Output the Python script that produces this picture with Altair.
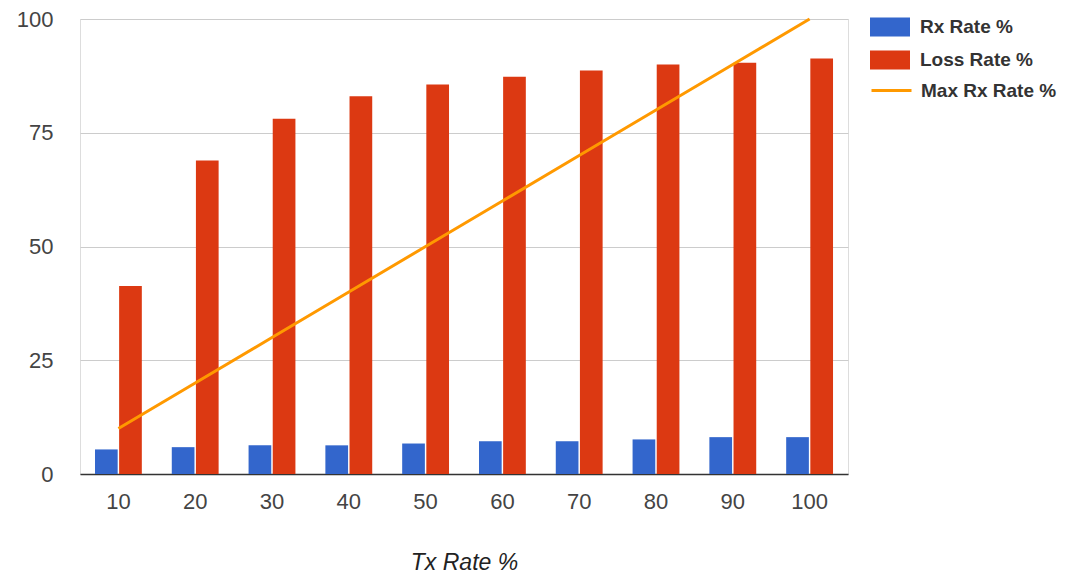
import altair as alt
import pandas as pd

tx_rates = ["10", "20", "30", "40", "50", "60", "70", "80", "90", "100"]
rx_rate = [5.4, 5.9, 6.3, 6.3, 6.7, 7.2, 7.2, 7.6, 8.1, 8.1]
loss_rate = [41.3, 68.9, 78.1, 83.0, 85.6, 87.3, 88.7, 90.0, 90.4, 91.3]
max_rx_rate = [10, 20, 30, 40, 50, 60, 70, 80, 90, 100]

bar_series = ["Rx Rate %", "Loss Rate %"]
bar_colors = ["#3366cc", "#dc3912"]
line_series = ["Max Rx Rate %"]
line_colors = ["#ff9900"]

rows = []
for i, t in enumerate(tx_rates):
    rows.append({"tx": t, "series": bar_series[0], "value": rx_rate[i]})
    rows.append({"tx": t, "series": bar_series[1], "value": loss_rate[i]})
bars_df = pd.DataFrame(rows)
line_df = pd.DataFrame({"tx": tx_rates, "series": line_series[0], "value": max_rx_rate})

FONT = "Liberation Sans"

legend_common = dict(
    title=None,
    orient="none",
    padding=0,
    labelFont=FONT,
    labelFontSize=19,
    labelFontWeight="bold",
    labelColor="#333333",
    symbolSize=1600,
)

x_enc = alt.X(
    "tx:O",
    sort=tx_rates,
    scale=alt.Scale(paddingInner=0.39, paddingOuter=0.195),
    axis=alt.Axis(
        title="Tx Rate %",
        titleFont=FONT,
        titleFontSize=23,
        titleFontStyle="italic",
        titleFontWeight="normal",
        titleColor="#222222",
        titlePadding=39,
        labelFont=FONT,
        labelFontSize=22,
        labelColor="#444444",
        labelPadding=17,
        labelAngle=0,
        ticks=False,
        domainColor="#333333",
        domainWidth=1.5,
        grid=False,
    ),
)

y_enc = alt.Y(
    "value:Q",
    scale=alt.Scale(domain=[0, 100], nice=False),
    axis=alt.Axis(
        title=None,
        values=[0, 25, 50, 75, 100],
        labelFont=FONT,
        labelFontSize=22,
        labelColor="#444444",
        labelPadding=27,
        ticks=False,
        domain=False,
        gridColor="#cccccc",
        gridWidth=1,
    ),
)

bars = alt.Chart(bars_df).mark_bar().encode(
    x=x_enc,
    xOffset=alt.XOffset("series:N", sort=bar_series, scale=alt.Scale(paddingInner=0.06)),
    y=y_enc,
    fill=alt.Fill(
        "series:N",
        sort=bar_series,
        scale=alt.Scale(domain=bar_series, range=bar_colors),
        legend=alt.Legend(
            legendX=790,
            legendY=-12,
            symbolType="M-1,-0.475H1V0.475H-1Z",
            symbolStrokeWidth=0,
            symbolOpacity=1,
            labelOffset=10,
            rowPadding=3,
            **legend_common,
        ),
    ),
)

line = alt.Chart(line_df).mark_line(strokeWidth=3).encode(
    x=alt.X("tx:O", sort=tx_rates),
    y=alt.Y("value:Q"),
    stroke=alt.Stroke(
        "series:N",
        scale=alt.Scale(domain=line_series, range=line_colors),
        legend=alt.Legend(
            legendX=790,
            legendY=50,
            symbolType="stroke",
            symbolStrokeWidth=3,
            labelOffset=8,
            **legend_common,
        ),
    ),
)

chart = (
    alt.layer(bars, line)
    .properties(
        width=768,
        height=455,
        autosize=alt.AutoSizeParams(type="none"),
        padding={"left": 72, "top": 11, "right": 213, "bottom": 102},
    )
    .configure_view(stroke=None)
    .configure(background="white")
)

chart.save("out.html", embed_options={"renderer": "svg", "actions": False})
